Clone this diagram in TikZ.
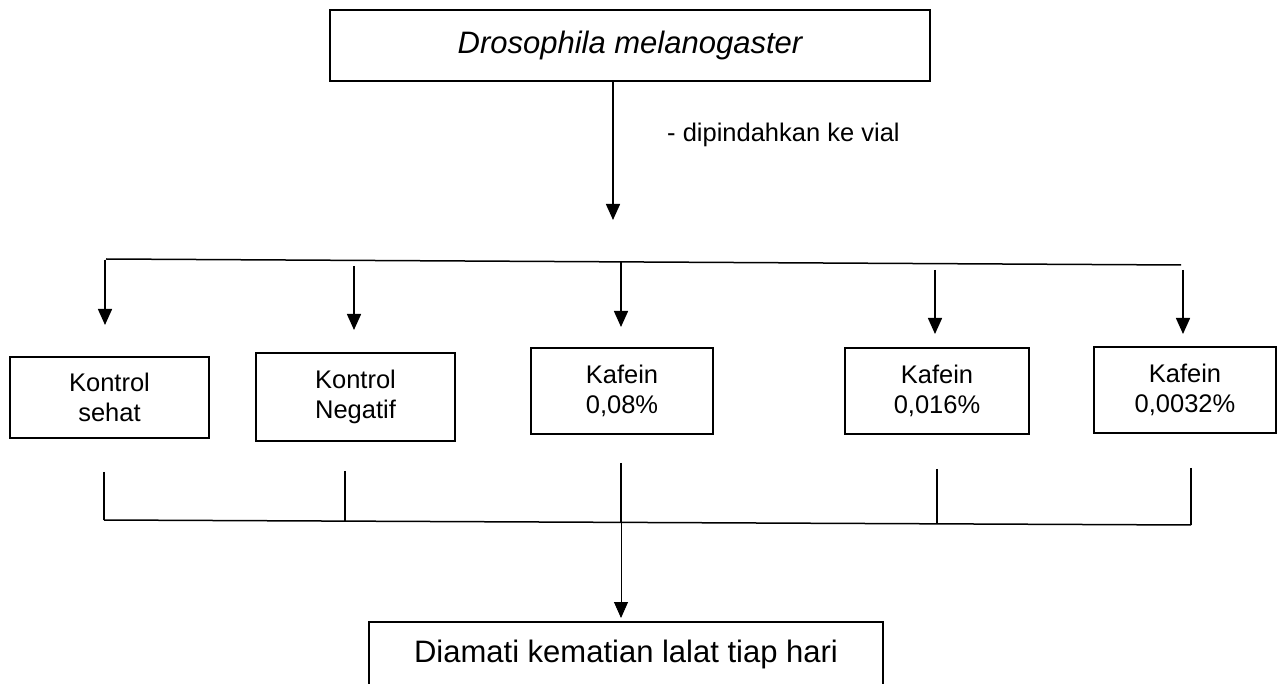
\documentclass[tikz,border=0pt]{standalone}
\usepackage{fontspec}
\setmainfont{Liberation Sans}
\usetikzlibrary{arrows.meta}
\begin{document}
\begin{tikzpicture}[x=1pt,y=-1pt,
  box/.style={draw,line width=1.5pt,inner sep=0pt,align=center,font=\fontsize{25.5}{30}\selectfont},
  big/.style={draw,line width=1.5pt,inner sep=0pt,font=\fontsize{31}{37}\selectfont},
  ln/.style={line width=1.5pt},
  arr/.style={line width=1.5pt,-{Triangle[width=14pt,length=16pt]}},
  thinarr/.style={line width=0.9pt,-{Triangle[width=14pt,length=16pt]}},
  lbl/.style={inner sep=0pt,font=\fontsize{25.5}{30}\selectfont}
  ]
\useasboundingbox (0,0) rectangle (1278,684);
\fill[white] (0,0) rectangle (1278,684);

% top box
\node[big,minimum width=600pt,minimum height=71pt] (top) at (630,45.5) {\itshape Drosophila melanogaster};
\coordinate (t1) at (613,220);
\draw[arr] (top.south -| t1) -- (t1);
\node[lbl,anchor=base west] (lab) at (667,142) {- dipindahkan ke vial};

% distribution line
\coordinate (hl) at (106,259);
\coordinate (hr) at (1181,265);
\draw[ln] (hl) -- (hr);

% five boxes
\node[box,minimum width=199pt,minimum height=81pt] (k1) at (109.5,397.5) {Kontrol\\sehat};
\node[box,minimum width=199pt,minimum height=88pt] (k2) at (355.5,397) {Kontrol\\Negatif};
\node[box,minimum width=182pt,minimum height=86pt] (k3) at (622,391) {Kafein\\0,08\%};
\node[box,minimum width=184pt,minimum height=86pt] (k4) at (937,391) {Kafein\\0,016\%};
\node[box,minimum width=182pt,minimum height=86pt] (k5) at (1185,390) {Kafein\\0,0032\%};

% arrows from line to boxes
\coordinate (a1s) at (105,260);  \coordinate (a1e) at (105,325);
\coordinate (a2s) at (354,266);  \coordinate (a2e) at (354,330);
\coordinate (a3s) at (621,262);  \coordinate (a3e) at (621,327);
\coordinate (a4s) at (935,270);  \coordinate (a4e) at (935,334);
\coordinate (a5s) at (1183,270); \coordinate (a5e) at (1183,334);
\draw[arr] (a1s) -- (a1e);
\draw[arr] (a2s) -- (a2e);
\draw[arr] (a3s) -- (a3e);
\draw[arr] (a4s) -- (a4e);
\draw[arr] (a5s) -- (a5e);

% collecting lines
\coordinate (c1s) at (104,472);  \coordinate (c1e) at (104,520);
\coordinate (c2s) at (345,471);  \coordinate (c2e) at (345,521);
\coordinate (c3s) at (621,463);  \coordinate (c3e) at (621,522);
\coordinate (c4s) at (937,469);  \coordinate (c4e) at (937,524);
\coordinate (c5s) at (1191,468); \coordinate (c5e) at (1191,525);
\draw[ln] (c1s) -- (c1e);
\draw[ln] (c2s) -- (c2e);
\draw[ln] (c3s) -- (c3e);
\draw[ln] (c4s) -- (c4e);
\draw[ln] (c5s) -- (c5e);
\draw[ln] (c1e) -- (c5e);

% bottom
\node[big,minimum width=514pt,minimum height=64pt] (bot) at (626,654) {Diamati kematian lalat tiap hari};
\coordinate (bt) at (621,618);
\draw[thinarr] (c3e) -- (bt);
\end{tikzpicture}
\end{document}
